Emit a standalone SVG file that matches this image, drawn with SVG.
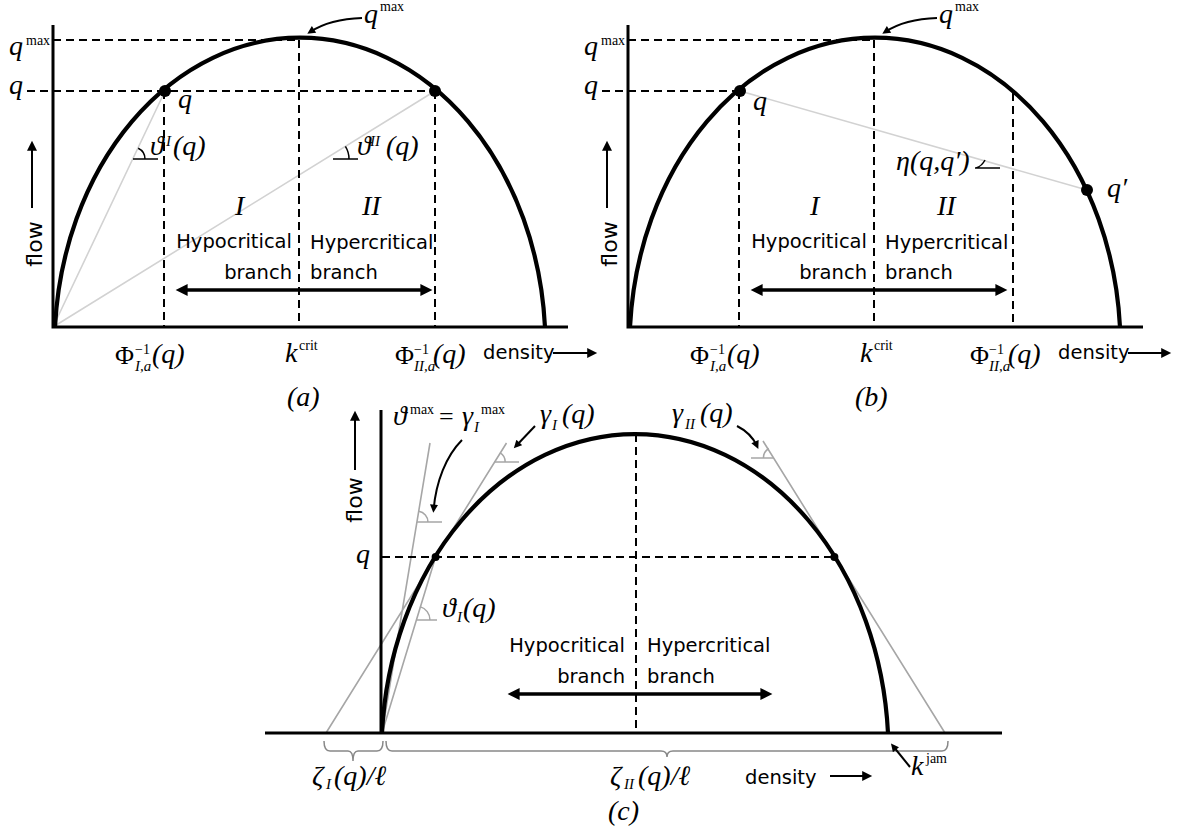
<svg xmlns="http://www.w3.org/2000/svg" width="1180" height="839" viewBox="0 0 1180 839">
<style>
.axis{stroke:#000;stroke-width:3;fill:none}
.curve{stroke:#000;stroke-width:4.2;fill:none}
.dash{stroke:#000;stroke-width:2;stroke-dasharray:8 5;fill:none}
.gl{stroke:#d2d2d2;stroke-width:1.6;fill:none}
.gm{stroke:#a6a6a6;stroke-width:1.6;fill:none}
.tk{stroke:#000;stroke-width:1.5;fill:none}
.tkg{stroke:#a6a6a6;stroke-width:1.5;fill:none}
.br{stroke:#888;stroke-width:1.5;fill:none}
.da{stroke:#000;stroke-width:3.5;fill:none}
.ar{stroke:#000;stroke-width:2;fill:none}
.m{font-family:"Liberation Serif","DejaVu Serif",serif;font-style:italic;font-size:28px}
.mr{font-family:"Liberation Serif","DejaVu Serif",serif;font-size:26px}
.sup{font-family:"Liberation Serif","DejaVu Serif",serif;font-size:14px}
.supi{font-family:"Liberation Serif","DejaVu Serif",serif;font-style:italic;font-size:15px}
.s{font-family:"DejaVu Sans",sans-serif;font-size:19.5px}
.f{font-family:"DejaVu Sans",sans-serif;font-size:22px}
</style>
<defs>
<marker id="ab" viewBox="0 0 10 10" refX="4" refY="5" markerUnits="userSpaceOnUse" markerWidth="13" markerHeight="12" orient="auto-start-reverse"><path d="M0,0 L10,5 L0,10 z" fill="#000"/></marker>
<marker id="as" viewBox="0 0 10 10" refX="6" refY="5" markerUnits="userSpaceOnUse" markerWidth="12" markerHeight="10" orient="auto"><path d="M0,0 L10,5 L0,10 z" fill="#000"/></marker>
<marker id="at" viewBox="0 0 10 10" refX="6" refY="5" markerUnits="userSpaceOnUse" markerWidth="9" markerHeight="8" orient="auto"><path d="M0,0 L10,5 L0,10 z" fill="#000"/></marker>
</defs>
<rect width="1180" height="839" fill="#fff"/>

<!-- Panel (a) -->
<g id="panel-a">
<path class="gl" d="M53,327 L165,91 M53,327 L435,91"/>
<path class="dash" d="M53,40 H299 M27,91 H435 M164,91 V327 M299,40 V327 M435,91 V327"/>
<path class="curve" d="M55,327 A245.5,309 0 0 1 545,327"/>
<path class="axis" d="M53,25 V327 H568"/>
<circle cx="165" cy="91" r="6"/>
<circle cx="435" cy="91" r="6"/>
<path class="tk" d="M133,159 H158 M145,159 A12,12 0 0 0 138.2,148.2"/>
<path class="tk" d="M333,159 H358 M349,159 A24,24 0 0 0 345.4,146.4"/>
<path class="da" d="M182.8,290 H425.2" marker-start="url(#ab)" marker-end="url(#ab)"/>
<path class="ar" d="M32,208 V144.8" marker-end="url(#as)"/>
<path class="ar" d="M553,353 H593.2" marker-end="url(#as)"/>
<path class="ar" d="M362,18 Q330,19 310,32" marker-end="url(#at)"/>
<text class="m" x="9" y="55">q</text><text class="sup" x="26" y="45">max</text>
<text class="m" x="9" y="94">q</text>
<text class="m" x="178" y="108">q</text>
<text class="m" x="364" y="23">q</text><text class="sup" x="380" y="11">max</text>
<text class="m" x="150" y="155">ϑ</text><text class="supi" x="166" y="146">I</text><text class="m" x="173" y="155">(q)</text>
<text class="m" x="357" y="155">ϑ</text><text class="supi" x="370" y="146">II</text><text class="m" x="386" y="155">(q)</text>
<text class="m" x="235" y="215">I</text>
<text class="m" x="362" y="215">II</text>
<text class="s" x="292" y="248" text-anchor="end">Hypocritical</text>
<text class="s" x="292" y="279" text-anchor="end">branch</text>
<text class="s" x="310" y="249">Hypercritical</text>
<text class="s" x="310" y="279">branch</text>
<text class="mr" x="115" y="364">Φ</text><text class="sup" x="135" y="354">−1</text><text class="supi" x="135" y="371">I,a</text><text class="m" x="152" y="363">(q)</text>
<text class="m" x="285" y="362">k</text><text class="sup" x="299" y="350">crit</text>
<text class="mr" x="395" y="364">Φ</text><text class="sup" x="414" y="354">−1</text><text class="supi" x="414" y="371">II,a</text><text class="m" x="433" y="363">(q)</text>
<text class="s" x="483" y="359">density</text>
<text class="f" transform="translate(42,244) rotate(-90)" text-anchor="middle">flow</text>
<text class="m" x="287" y="406">(a)</text>
</g>

<!-- Panel (b) -->
<g id="panel-b">
<path class="gl" d="M740,91 L1087,190"/>
<path class="dash" d="M628,40 H874 M602,91 H740 M739,91 V327 M874,40 V327 M1013,93 V327"/>
<path class="curve" d="M630,327 A245.5,309 0 0 1 1120,327"/>
<path class="axis" d="M628,25 V327 H1143"/>
<circle cx="740" cy="91" r="6"/>
<circle cx="1087" cy="190" r="6"/>
<path class="tk" d="M975,168 H1000 M976,168 Q982,166 985,160"/>
<path class="da" d="M757.8,290 H1000.2" marker-start="url(#ab)" marker-end="url(#ab)"/>
<path class="ar" d="M607,208 V144.8" marker-end="url(#as)"/>
<path class="ar" d="M1128,353 H1167.2" marker-end="url(#as)"/>
<path class="ar" d="M937,18 Q905,19 885,32" marker-end="url(#at)"/>
<text class="m" x="584" y="55">q</text><text class="sup" x="601" y="45">max</text>
<text class="m" x="584" y="94">q</text>
<text class="m" x="753" y="110">q</text>
<text class="m" x="939" y="23">q</text><text class="sup" x="955" y="11">max</text>
<text class="m" x="896" y="170">η(q,q′)</text>
<text class="m" x="1107" y="197">q′</text>
<text class="m" x="810" y="215">I</text>
<text class="m" x="937" y="215">II</text>
<text class="s" x="867" y="248" text-anchor="end">Hypocritical</text>
<text class="s" x="867" y="279" text-anchor="end">branch</text>
<text class="s" x="885" y="249">Hypercritical</text>
<text class="s" x="885" y="279">branch</text>
<text class="mr" x="690" y="364">Φ</text><text class="sup" x="710" y="354">−1</text><text class="supi" x="710" y="371">I,a</text><text class="m" x="727" y="363">(q)</text>
<text class="m" x="860" y="362">k</text><text class="sup" x="874" y="350">crit</text>
<text class="mr" x="970" y="364">Φ</text><text class="sup" x="989" y="354">−1</text><text class="supi" x="989" y="371">II,a</text><text class="m" x="1008" y="363">(q)</text>
<text class="s" x="1058" y="359">density</text>
<text class="f" transform="translate(617,244) rotate(-90)" text-anchor="middle">flow</text>
<text class="m" x="855" y="406">(b)</text>
</g>

<!-- Panel (c) -->
<g id="panel-c">
<path class="gm" d="M382,733 L430,443 M326,733 L506.5,443 M382,733 L435.6,557 M763,441 L945,733"/>
<path class="tkg" d="M417,522 H442 M428,522 A11,11 0 0 0 418.8,511.2"/>
<path class="tkg" d="M494,462 H519 M505.2,462 A11,11 0 0 0 500,452.6"/>
<path class="tkg" d="M416,620 H437 M430,620 A14,14 0 0 0 420,606.6"/>
<path class="tkg" d="M751,458 H774 M763.4,458 A11,11 0 0 1 768.8,448.5"/>
<path class="dash" d="M382,557 H834 M636,434 V733"/>
<path class="curve" d="M382,733 A253.5,319 0 0 1 888,733"/>
<path class="axis" d="M381,410 V733 M265,733 H1002"/>
<circle cx="435.6" cy="557" r="4"/>
<circle cx="834.4" cy="557" r="4"/>
<path class="br" d="M324,741 Q324,751 330,751 H348 Q353,751 353,761 Q353,751 358,751 H377 Q383,751 383,741"/>
<path class="br" d="M386,741 Q386,751 392,751 H661 Q667,751 667,757 Q667,751 673,751 H942 Q948,751 948,741"/>
<path class="da" d="M514.8,694 H765.2" marker-start="url(#ab)" marker-end="url(#ab)"/>
<path class="ar" d="M355,470 V414.8" marker-end="url(#as)"/>
<path class="ar" d="M830,776 H868.2" marker-end="url(#as)"/>
<path class="ar" d="M462,440 C446,456 436,482 433.6,509.5" marker-end="url(#at)"/>
<path class="ar" d="M535,426 L516,446" marker-end="url(#at)"/>
<path class="ar" d="M737,426 Q751,433 757,446" marker-end="url(#at)"/>
<path class="ar" d="M910,767 L893,746" marker-end="url(#at)"/>
<text class="m" x="393" y="425">ϑ</text><text class="sup" x="410" y="414">max</text>
<text class="mr" x="439" y="425">=</text>
<text class="m" x="462" y="425">γ</text><text class="supi" x="474" y="432">I</text><text class="sup" x="481" y="414">max</text>
<text class="m" x="540" y="423">γ</text><text class="supi" x="552" y="430">I</text><text class="m" x="562" y="423">(q)</text>
<text class="m" x="672" y="422">γ</text><text class="supi" x="685" y="429">II</text><text class="m" x="700" y="422">(q)</text>
<text class="m" x="356" y="563">q</text>
<text class="m" x="442" y="617">ϑ</text><text class="supi" x="457" y="622">I</text><text class="m" x="463" y="617">(q)</text>
<text class="s" x="625" y="652" text-anchor="end">Hypocritical</text>
<text class="s" x="625" y="683" text-anchor="end">branch</text>
<text class="s" x="647" y="652">Hypercritical</text>
<text class="s" x="647" y="683">branch</text>
<text class="m" x="312" y="785">ζ</text><text class="supi" x="326" y="789">I</text><text class="m" x="334" y="785">(q)/ℓ</text>
<text class="m" x="610" y="785">ζ</text><text class="supi" x="624" y="789">II</text><text class="m" x="638" y="785">(q)/ℓ</text>
<text class="s" x="745" y="784">density</text>
<text class="m" x="911" y="775">k</text><text class="sup" x="926" y="763">jam</text>
<text class="f" transform="translate(362,500) rotate(-90)" text-anchor="middle">flow</text>
<text class="m" x="608" y="820">(c)</text>
</g>
</svg>
